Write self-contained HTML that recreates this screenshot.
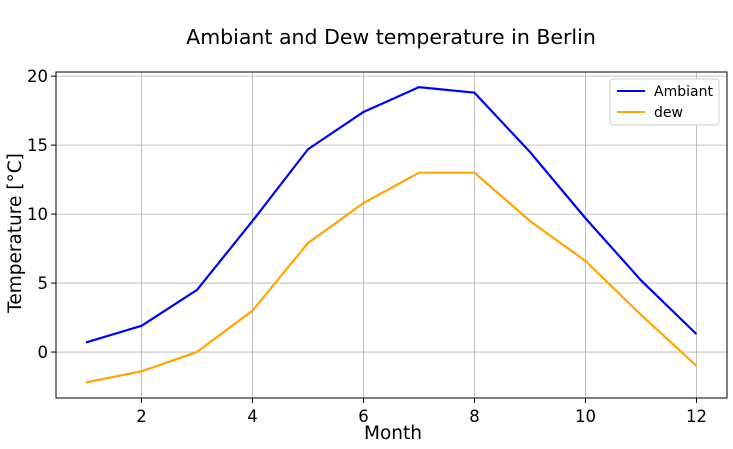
<!DOCTYPE html>
<html><head><meta charset="utf-8"><style>
body{margin:0;background:#fff;}
svg{display:block;font-family:"DejaVu Sans","Liberation Sans",sans-serif;}
</style></head><body>
<svg id="chart" width="733" height="449"></svg>
<script>
const months=[1,2,3,4,5,6,7,8,9,10,11,12];
const ambiant=[0.7,1.9,4.5,9.5,14.7,17.4,19.2,18.8,14.5,9.7,5.2,1.3];
const dew=[-2.2,-1.4,0,3.0,7.9,10.8,13,13,9.5,6.6,2.7,-1.0];
const xTicks=[2,4,6,8,10,12];
const yTicks=[0,5,10,15,20];
const L=56,R=727,T=72,B=398;
const xMin=0.46,xMax=12.55,yMin=-3.33,yMax=20.3;
const sx=v=>L+(v-xMin)/(xMax-xMin)*(R-L);
const sy=v=>B-(v-yMin)/(yMax-yMin)*(B-T);
const svg=document.getElementById('chart');
const NS='http://www.w3.org/2000/svg';
function mk(tag,attrs,parent){const e=document.createElementNS(NS,tag);for(const k in attrs)e.setAttribute(k,attrs[k]);(parent||svg).appendChild(e);return e;}
xTicks.forEach(t=>{
  const l=mk('line',{x1:sx(t),x2:sx(t),y1:T,y2:B,stroke:'#b0b0b0','stroke-width':0.8});
  
  
  mk('line',{x1:sx(t),x2:sx(t),y1:B,y2:B+5,stroke:'#000'});
  const tx=mk('text',{x:sx(t),y:B+24,'text-anchor':'middle','font-size':16.5});
  tx.textContent=t;
  
  
});
yTicks.forEach(t=>{
  const l=mk('line',{x1:L,x2:R,y1:sy(t),y2:sy(t),stroke:'#b0b0b0','stroke-width':0.8});
  
  
  mk('line',{x1:L-5,x2:L,y1:sy(t),y2:sy(t),stroke:'#000'});
  const tx=mk('text',{x:L-8,y:sy(t)+6,'text-anchor':'end','font-size':16.5});
  tx.textContent=t;
  
  
});
function series(vals,color,name){
  const p=mk('polyline',{points:months.map((m,i)=>sx(m)+','+sy(vals[i])).join(' '),fill:'none',stroke:color,'stroke-width':2.2});
  
  
}
series(ambiant,'#0000ff','ambiant-line');
series(dew,'#ffa500','dew-line');
const fr=mk('rect',{x:L,y:T,width:R-L,height:B-T,fill:'none',stroke:'#000','stroke-width':1});


const title=mk('text',{x:391,y:44,'text-anchor':'middle','font-size':20.5});
title.textContent='Ambiant and Dew temperature in Berlin';


const xl=mk('text',{x:393,y:439,'text-anchor':'middle','font-size':18.5});
xl.textContent='Month';


const yl=mk('text',{x:0,y:0,'text-anchor':'middle','font-size':18.5,transform:'translate(21,233) rotate(-90)'});
yl.textContent='Temperature [°C]';


const lg=mk('g',{});


mk('rect',{x:610,y:79,width:109,height:46,rx:3,fill:'#fff',stroke:'#ccc'},lg);
[['Ambiant','#0000ff',91],['dew','#ffa500',112]].forEach(([n,c,y])=>{
  const g=mk('g',{},lg);
  
  
  mk('line',{x1:617,x2:645,y1:y,y2:y,stroke:c,'stroke-width':2},g);
  const t=mk('text',{x:654,y:y+5,'font-size':14},g);
  t.textContent=n;
});
</script>
</body></html>
